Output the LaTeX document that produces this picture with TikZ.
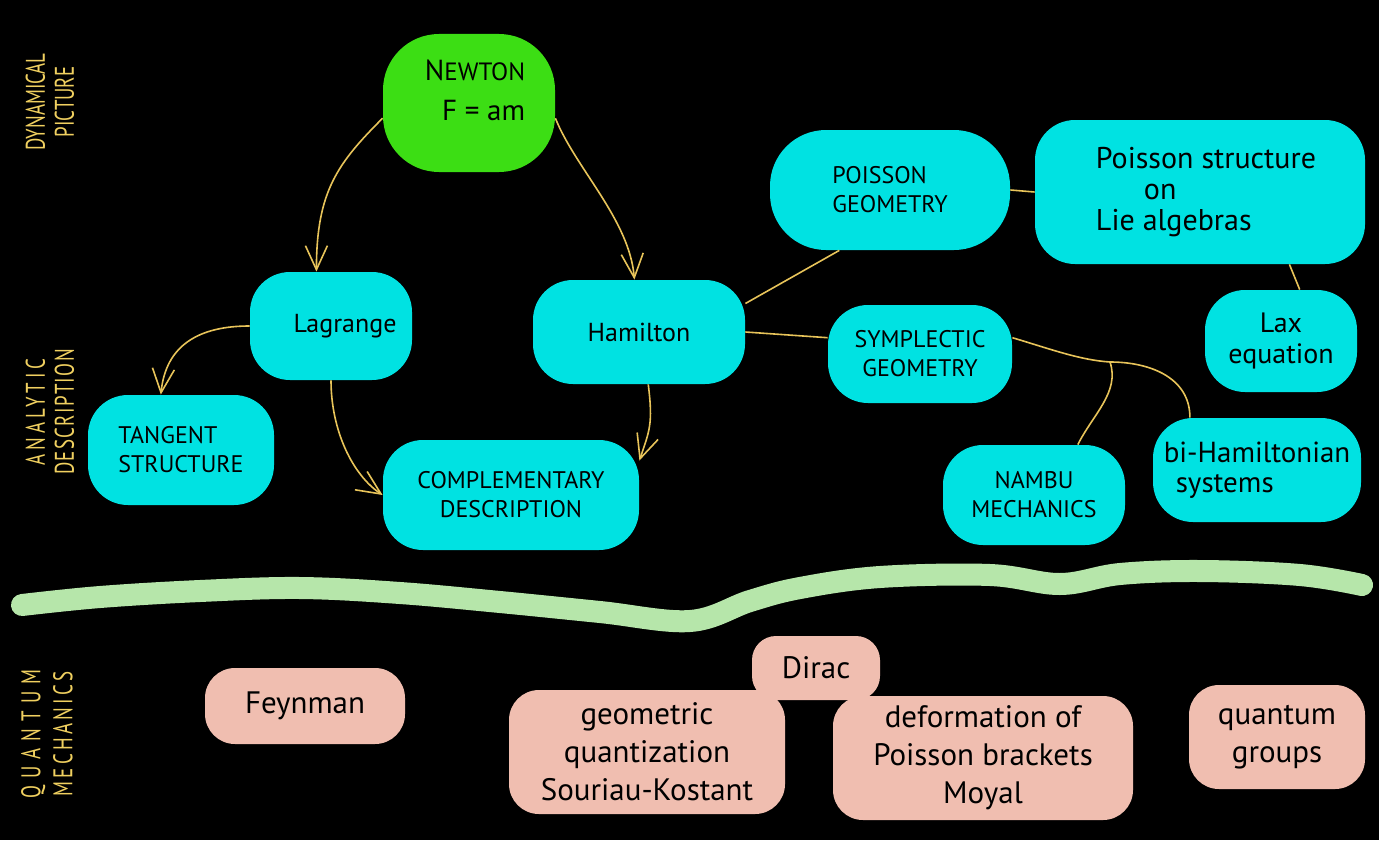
\documentclass[tikz,border=0pt]{standalone}
\usepackage{fontspec}
\setmainfont{PT Sans}
\newfontfamily\sidefont[FakeStretch=0.7]{PT Sans}
\usetikzlibrary{positioning}
\usetikzlibrary{arrows.meta}

\definecolor{blobcyan}{RGB}{0,226,226}
\definecolor{newtongreen}{RGB}{60,222,20}
\definecolor{qmpink}{RGB}{240,190,176}
\definecolor{bandgreen}{RGB}{182,230,170}
\definecolor{chalk}{RGB}{240,208,96}
\definecolor{linkyellow}{RGB}{232,196,90}

\tikzset{
  blob/.style={rectangle, rounded corners=20pt, inner sep=0pt, align=center, text=black},
  cyanblob/.style={blob, fill=blobcyan},
  pinkblob/.style={blob, fill=qmpink, rounded corners=15pt, font=\fontsize{15.5}{19}\selectfont},
  capsfont/.style={font=\fontsize{12}{14.5}\selectfont},
  lowfont/.style={font=\fontsize{13}{15.5}\selectfont},
  sidelabel/.style={text=chalk, rotate=90, align=center, font=\sidefont\fontsize{13.5}{14.5}\selectfont},
  link/.style={draw=linkyellow, line width=0.8pt},
  arrow/.style={link, -{Straight Barb[length=12pt,width=11pt]}},
  band/.style={draw=bandgreen, line width=11pt, line cap=round, line join=round}
}

\begin{document}
\begin{tikzpicture}[x=0.5pt, y=-0.5pt]
\fill[black] (0,0) rectangle (1379,840);
\useasboundingbox (0,0) rectangle (1379,840);

% side labels
\node[sidelabel] (dynlabel) at (50,102) {DYNAMICAL\\PICTURE};
\node[sidelabel] (analabel) at (50,412) {{\addfontfeature{LetterSpace=14}ANALYTIC}\\{\addfontfeature{LetterSpace=5}DESCRIPTION}};
\node[sidelabel, font=\sidefont\fontsize{13.5}{16}\selectfont] (qmlabel) at (47,734) {{\addfontfeature{LetterSpace=26}QUANTUM}\\{\addfontfeature{LetterSpace=12}MECHANICS}};

% classical nodes
\node[blob, fill=newtongreen, rounded corners=28pt, minimum width=86pt, minimum height=69pt] (newton) at (469,103) {};
\node[align=right, text=black, font=\fontsize{14.5}{20}\selectfont] (newtontext) at ([shift={(6,-13)}]newton.center) {N{\fontsize{12.5}{20}\selectfont EWTON}\\F = am};
\node[cyanblob, lowfont, minimum width=81pt, minimum height=54pt] (lagrange) at (331,326) {\hspace*{14pt}Lagrange};
\node[cyanblob, lowfont, minimum width=106pt, minimum height=52pt] (hamilton) at (639,332) {Hamilton};
\node[cyanblob, capsfont, align=left, minimum width=93pt, minimum height=55pt] (tangent) at (181,450) {TANGENT\\STRUCTURE};
\node[cyanblob, capsfont, minimum width=128pt, minimum height=55pt] (complement) at (511,495) {COMPLEMENTARY\\DESCRIPTION};
\node[cyanblob, capsfont, align=left, minimum width=120pt, minimum height=60pt, rounded corners=28pt] (poissongeom) at (890,190) {POISSON\\GEOMETRY};
\node[cyanblob, align=left, minimum width=165pt, minimum height=72pt, font=\fontsize{15}{15.5}\selectfont] (poissonlie) at (1200,192) {\hspace*{6pt}Poisson structure\\\hspace*{30pt}on\\\hspace*{6pt}Lie algebras};
\node[cyanblob, font=\fontsize{14}{15.5}\selectfont, minimum width=76pt, minimum height=51pt] (lax) at (1281,341) {Lax\\equation};
\node[cyanblob, capsfont, minimum width=92pt, minimum height=49pt] (symplectic) at (920,354) {SYMPLECTIC\\GEOMETRY};
\node[cyanblob, capsfont, minimum width=91pt, minimum height=50pt] (nambu) at (1034,495) {NAMBU\\MECHANICS};
\node[cyanblob, align=left, minimum width=104pt, minimum height=52pt, font=\fontsize{14.5}{15}\selectfont] (bihamil) at (1257,470) {bi-Hamiltonian\\\hspace*{6pt}systems};

% links
\draw[arrow] (newton.190) .. controls +(-45,45) and +(0,-80) .. (lagrange.105);
\draw[arrow] (newton.-10) .. controls +(20,50) and +(-5,-60) .. (hamilton.95);
\draw[arrow] (lagrange.west) .. controls +(-50,0) and +(5,-50) .. (tangent.110);
\draw[arrow] (lagrange.south) .. controls +(0,50) and +(-30,-20) .. (complement.west);
\draw[arrow] (hamilton.-80) .. controls +(5,40) and +(10,-30) .. (complement.15);
\draw[link] (hamilton.15) -- (poissongeom.-130);
\draw[link] (hamilton.east) -- (symplectic.170);
\draw[link] (poissongeom.east) -- (poissonlie.west);
\draw[link] (poissonlie.-39) -- (lax.70);
\coordinate (split) at (1110,362);
\draw[link] (symplectic.10) .. controls +(40,12) and +(-30,-2) .. (split);
\draw[link] (split) .. controls +(10,30) and +(15,-30) .. (nambu.49);
\draw[link] (split) .. controls +(40,0) and +(0,-40) .. (bihamil.142);

% separating band
\draw[band] plot[smooth, tension=0.6] coordinates {(22,605) (100,597) (200,591) (300,588) (400,593) (500,602) (600,612) (690,621) (750,601) (800,588) (880,577) (990,575) (1060,584) (1120,574) (1200,571) (1300,575) (1362,585)};

% quantum nodes
\node[pinkblob, minimum width=100pt, minimum height=38pt] (feynman) at (305,706) {Feynman};
\node[pinkblob, minimum width=64pt, minimum height=32pt, rounded corners=12pt] (dirac) at (816,668) {Dirac};
\node[pinkblob, minimum width=138pt, minimum height=62pt] (geomquant) at (647,752) {geometric\\quantization\\Souriau-Kostant};
\node[pinkblob, minimum width=150pt, minimum height=62pt] (deform) at (983,758) {deformation of\\Poisson brackets\\Moyal};
\node[pinkblob, minimum width=88pt, minimum height=52pt] (qgroups) at (1277,737) {quantum\\groups};
\end{tikzpicture}
\end{document}
